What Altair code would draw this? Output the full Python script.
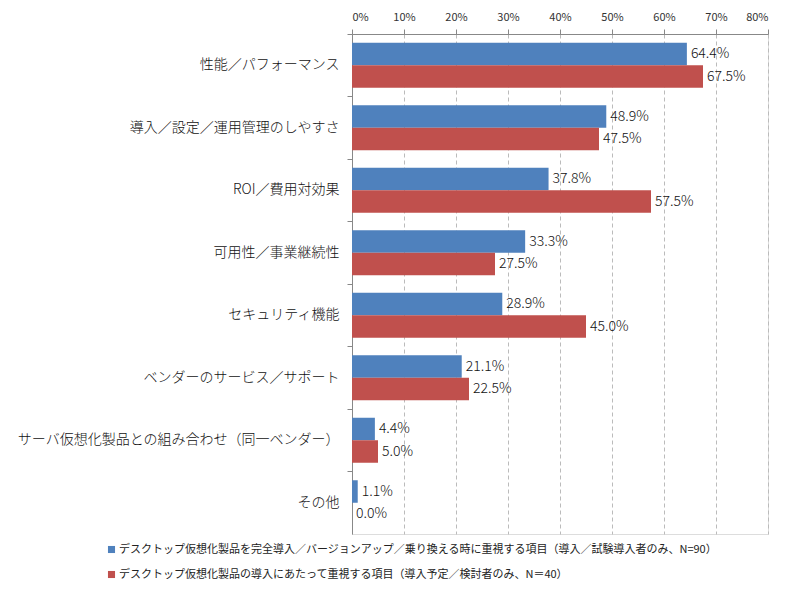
import altair as alt
import pandas as pd

categories = [
    "性能／パフォーマンス",
    "導入／設定／運用管理のしやすさ",
    "ROI／費用対効果",
    "可用性／事業継続性",
    "セキュリティ機能",
    "ベンダーのサービス／サポート",
    "サーバ仮想化製品との組み合わせ（同一ベンダー）",
    "その他",
]
series_names = [
    "デスクトップ仮想化製品を完全導入／バージョンアップ／乗り換える時に重視する項目（導入／試験導入者のみ、N=90）",
    "デスクトップ仮想化製品の導入にあたって重視する項目（導入予定／検討者のみ、N＝40）",
]
values_a = [64.4, 48.9, 37.8, 33.3, 28.9, 21.1, 4.4, 1.1]
values_b = [67.5, 47.5, 57.5, 27.5, 45.0, 22.5, 5.0, 0.0]
colors = ["#4F81BD", "#C0504D"]

rows = []
for c, a, b in zip(categories, values_a, values_b):
    rows.append({"cat": c, "series": series_names[0], "v": a, "label": f"{a:.1f}%"})
    rows.append({"cat": c, "series": series_names[1], "v": b, "label": f"{b:.1f}%"})
df = pd.DataFrame(rows)

FONT = "Noto Sans CJK JP"

y_enc = alt.Y(
    "cat:N",
    sort=categories,
    title=None,
    scale=alt.Scale(paddingInner=0.28, paddingOuter=0.14),
    axis=alt.Axis(
        bandPosition=-0.194,
        labelFontSize=14,
        labelFontWeight=300,
        labelColor="#111",
        labelFont=FONT,
        labelPadding=8,
        labelLimit=400,
        tickSize=5,
        tickColor="#888",
        domainColor="#888",
        grid=False,
    ),
)
yoff = alt.YOffset("series:N", sort=series_names, scale=alt.Scale(paddingInner=0))

base = alt.Chart(df)

bars = base.mark_bar().encode(
    x=alt.X(
        "v:Q",
        scale=alt.Scale(domain=[0, 80], nice=False),
        title=None,
        axis=alt.Axis(
            orient="top",
            values=[0, 10, 20, 30, 40, 50, 60, 70, 80],
            labelExpr="datum.value + '%'",
            labelFontSize=11,
            labelColor="#333",
            labelFont=FONT,
            labelPadding=7,
            tickSize=5,
            tickColor="#888",
            domainColor="#888",
            grid=True,
            gridDash=[4, 3],
            gridColor="#bbbbbb",
        ),
    ),
    y=y_enc,
    yOffset=yoff,
    color=alt.Color(
        "series:N",
        sort=series_names,
        scale=alt.Scale(domain=series_names, range=colors),
        legend=alt.Legend(
            title=None,
            orient="none",
            legendX=-246,
            legendY=510,
            symbolType="square",
            symbolSize=50,
            symbolStrokeWidth=0,
            labelFontSize=11,
            labelFont=FONT,
            labelColor="#222",
            labelLimit=700,
            rowPadding=13,
            symbolOffset=0,
            labelOffset=2,
        ),
    ),
)

labels = base.mark_text(
    align="left", baseline="middle", dx=4, fontSize=14, fontWeight=300, font=FONT, color="#111"
).encode(
    x="v:Q",
    y=alt.Y("cat:N", sort=categories),
    yOffset=yoff,
    text="label:N",
)

chart = (
    alt.layer(bars, labels)
    .properties(
        width=416,
        height=500,
        autosize=alt.AutoSizeParams(type="none"),
        padding={"left": 344, "top": 26, "right": 24, "bottom": 58},
    )
    .configure_view(stroke=None)
    .configure(background="white")
)

chart.save("out.html", embed_options={"renderer": "svg", "actions": False})
